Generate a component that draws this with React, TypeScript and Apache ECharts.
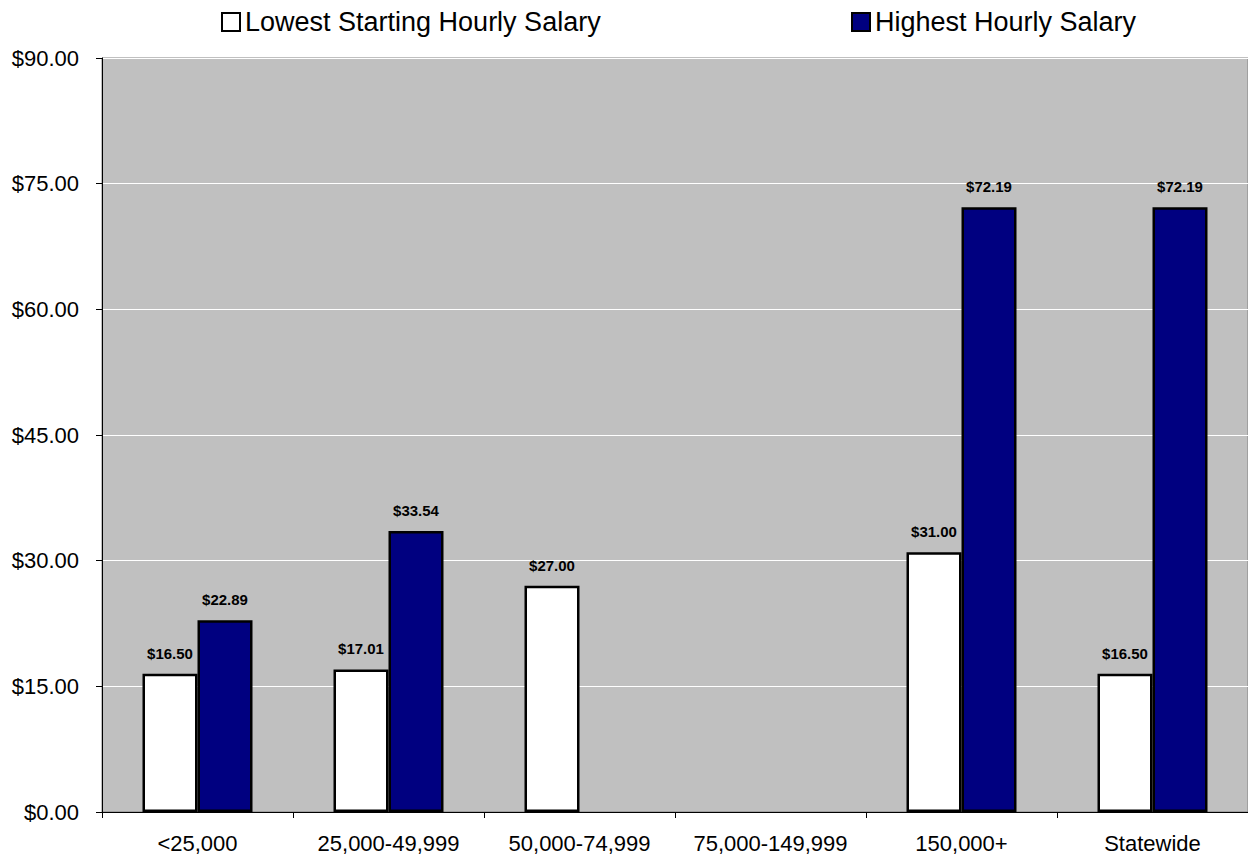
import React, { useEffect, useRef } from "react";
import * as echarts from "echarts";

const categories = ["<25,000", "25,000-49,999", "50,000-74,999", "75,000-149,999", "150,000+", "Statewide"];
const lowestStarting: (number | null)[] = [16.5, 17.01, 27.0, null, 31.0, 16.5];
const highestHourly: (number | null)[] = [22.89, 33.54, null, null, 72.19, 72.19];
const yTicks = { min: 0, max: 90, interval: 15 };

const FONT = "Arial, 'Liberation Sans', sans-serif";

export default function App() {
  const ref = useRef<HTMLDivElement>(null);
  useEffect(() => {
    if (!ref.current) return;
    const chart = echarts.init(ref.current, undefined, { renderer: "svg" });
    const labelCfg = {
      show: true,
      position: "top" as const,
      distance: 13,
      fontFamily: FONT,
      fontWeight: "bold" as const,
      fontSize: 15,
      color: "#000",
      formatter: (p: any) => "$" + Number(p.value).toFixed(2),
    };
    chart.setOption({
      animation: false,
      backgroundColor: "#ffffff",
      legend: [
        {
          data: ["Lowest Starting Hourly Salary"],
          left: 221,
          top: 7,
          padding: 0,
          itemWidth: 18,
          itemHeight: 18,
          icon: "rect",
          textStyle: { fontFamily: FONT, fontSize: 27, color: "#000", lineHeight: 30 },
        },
        {
          data: ["Highest Hourly Salary"],
          left: 851,
          top: 7,
          padding: 0,
          itemWidth: 18,
          itemHeight: 18,
          icon: "rect",
          textStyle: { fontFamily: FONT, fontSize: 27, color: "#000", lineHeight: 30 },
        },
      ],
      grid: {
        left: 102,
        top: 58,
        width: 1151,
        height: 754,
        show: true,
        backgroundColor: "#c0c0c0",
        borderColor: "#808080",
        borderWidth: 1,
        containLabel: false,
      },
      xAxis: {
        type: "category",
        data: categories,
        axisLine: { show: true, lineStyle: { color: "#000", width: 1 } },
        axisTick: { show: true, length: 6, lineStyle: { color: "#000" } },
        axisLabel: { interval: 0, fontFamily: FONT, fontSize: 22, color: "#000", margin: 20 },
        splitLine: { show: false },
      },
      yAxis: {
        type: "value",
        min: yTicks.min,
        max: yTicks.max,
        interval: yTicks.interval,
        axisLine: { show: true, lineStyle: { color: "#000", width: 1 } },
        axisTick: { show: true, length: 6, lineStyle: { color: "#000" } },
        axisLabel: {
          fontFamily: FONT,
          fontSize: 22,
          color: "#000",
          margin: 23,
          formatter: (v: number) => "$" + v.toFixed(2),
        },
        splitLine: { show: true, lineStyle: { color: "#ffffff", width: 1 } },
      },
      series: [
        {
          name: "Lowest Starting Hourly Salary",
          type: "bar",
          data: lowestStarting,
          barWidth: 55,
          barGap: "0%",
          itemStyle: { color: "#ffffff", borderColor: "#000", borderWidth: 2.5 },
          label: labelCfg,
        },
        {
          name: "Highest Hourly Salary",
          type: "bar",
          data: highestHourly,
          barWidth: 55,
          barGap: "0%",
          itemStyle: { color: "#000080", borderColor: "#000", borderWidth: 2.5 },
          label: labelCfg,
        },
      ],
    });
    return () => chart.dispose();
  }, []);
  return (
    <div
      ref={ref}
      style={{ position: "fixed", left: 0, top: 0, width: 1248, height: 856 }}
    />
  );
}
